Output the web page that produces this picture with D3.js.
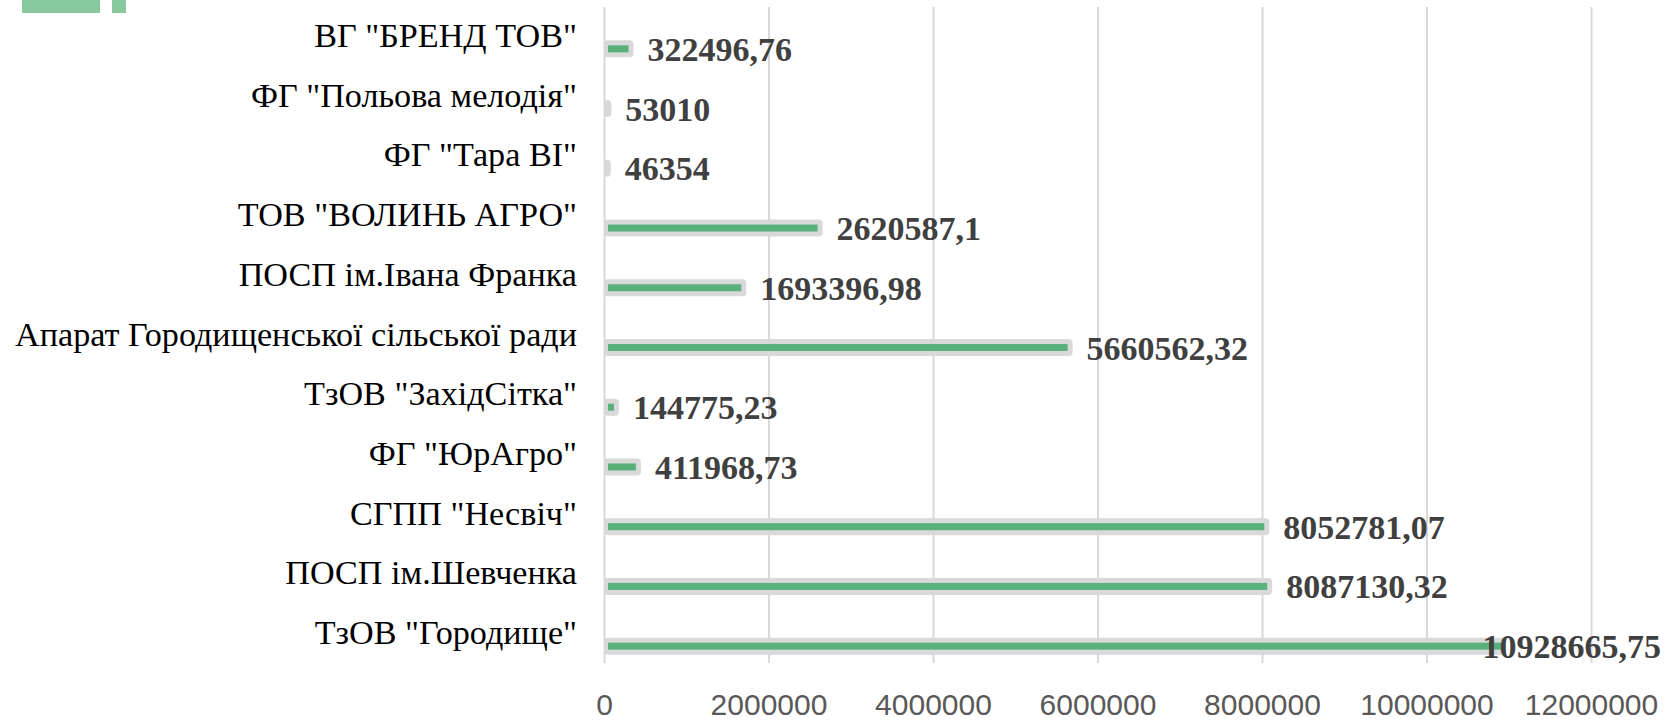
<!DOCTYPE html>
<html>
<head>
<meta charset="utf-8">
<script src="https://cdn.jsdelivr.net/npm/d3@7"></script>
<style>
  html, body { margin: 0; padding: 0; background: #fff; }
  svg { display: block; }
</style>
</head>
<body>
<div id="chart"></div>
<script>
// data, top row first
var categories = [
  'ВГ "БРЕНД ТОВ"',
  'ФГ "Польова мелодія"',
  'ФГ "Тара ВІ"',
  'ТОВ "ВОЛИНЬ АГРО"',
  'ПОСП ім.Івана Франка',
  'Апарат Городищенської сільської ради',
  'ТзОВ "ЗахідСітка"',
  'ФГ "ЮрАгро"',
  'СГПП "Несвіч"',
  'ПОСП ім.Шевченка',
  'ТзОВ "Городище"'
];
var amounts = [322496.76, 53010, 46354, 2620587.1, 1693396.98, 5660562.32,
               144775.23, 411968.73, 8052781.07, 8087130.32, 10928665.75];
var xTicks = [0, 2000000, 4000000, 6000000, 8000000, 10000000, 12000000];

(function drawBars(){

  var W = 1673, H = 721;
  var plot = {left: 604, right: 1591, top: 7, bottom: 663};

  var svg = d3.select("#chart")
    .append("svg")
      .attr("width", W)
      .attr("height", H);

  var x = d3.scaleLinear()
    .domain([0, 12000000])
    .range([plot.left, plot.right]);

  var y = d3.scaleBand()
    .domain(categories)
    .range([4, 661]);

  var rows = categories.map(function(c, i){ return {name: c, value: amounts[i]}; });

  // cropped green shape in the top-left corner
  svg.append("rect").attr("x", 22).attr("y", 0).attr("width", 78).attr("height", 13)
    .attr("fill", "#87c89f");
  svg.append("rect").attr("x", 112).attr("y", 0).attr("width", 14).attr("height", 13)
    .attr("fill", "#87c89f");

  // vertical gridlines
  var grid = d3.axisBottom(x)
    .tickValues(xTicks)
    .tickSize(-(plot.bottom - plot.top))
    .tickFormat("");

  svg.append("g")
    .attr("class", "grid")
    .attr("transform", "translate(0," + plot.bottom + ")")
    .call(grid)
    .call(function(g){ g.select(".domain").remove(); })
    .selectAll("line")
      .attr("stroke", "#d9d9d9")
      .attr("stroke-width", 2);

  // tick labels
  var xAxis = d3.axisBottom(x)
    .tickValues(xTicks)
    .tickSize(0)
    .tickPadding(0)
    .tickFormat(d3.format("d"));

  svg.append("g")
    .attr("class", "x axis")
    .attr("transform", "translate(0,715)")
    .call(xAxis)
    .call(function(g){ g.select(".domain").remove(); })
    .selectAll("text")
      .attr("dy", 0)
      .attr("y", 0)
      .attr("fill", "#595959")
      .attr("font-family", "'Liberation Sans', Arial, sans-serif")
      .attr("font-size", "30px");

  function barY(d){ return y(d.name) + y.bandwidth() / 2 + 15; }

  // grey glow behind each bar
  svg.selectAll(".glow")
    .data(rows)
    .enter().append("rect")
      .attr("class", "glow")
      .attr("x", x(0))
      .attr("y", function(d){ return barY(d) - 8.5; })
      .attr("width", function(d){ return x(d.value) - x(0) + 3; })
      .attr("height", 17)
      .attr("rx", 4)
      .attr("fill", "#d9d9d9");

  svg.selectAll(".bar")
    .data(rows)
    .enter().append("rect")
      .attr("class", "bar")
      .attr("x", x(0) + 4)
      .attr("y", function(d){ return barY(d) - 3.5; })
      .attr("width", function(d){ return Math.max(0, x(d.value) - x(0) - 6); })
      .attr("height", 7)
      .attr("fill", "#58b17b");

  // category labels, squeezed to the narrow serif of the original
  var labels = svg.append("g").attr("class", "labels");
  labels.selectAll("text")
    .data(rows)
    .enter().append("text")
      .attr("text-anchor", "end")
      .attr("font-family", "'Liberation Serif', 'DejaVu Serif', serif")
      .attr("font-size", "34px")
      .attr("fill", "#000")
      .text(function(d){ return d.name; });

  var widest = 0;
  labels.selectAll("text").each(function(){
    widest = Math.max(widest, this.getComputedTextLength());
  });
  var squeeze = 562 / widest;
  labels.selectAll("text")
    .attr("transform", function(d){
      return "translate(577," + (y(d.name) + y.bandwidth() / 2 + 13) + ")scale(" + squeeze + ",1)";
    });

  // value labels
  svg.selectAll(".val")
    .data(rows)
    .enter().append("text")
      .attr("class", "val")
      .attr("font-family", "'Liberation Serif', 'DejaVu Serif', serif")
      .attr("font-weight", "bold")
      .attr("font-size", "34px")
      .attr("fill", "#404040")
      .attr("y", function(d){ return barY(d) + 12; })
      .text(function(d){ return String(d.value).replace(".", ","); })
      .each(function(d){
        var w = this.getComputedTextLength();
        var sx = x(d.value) + 17;
        if (sx + w > W - 10) {
          d3.select(this).attr("x", W - 12).attr("text-anchor", "end");
        } else {
          d3.select(this).attr("x", sx);
        }
      });

})();
</script>
</body>
</html>
